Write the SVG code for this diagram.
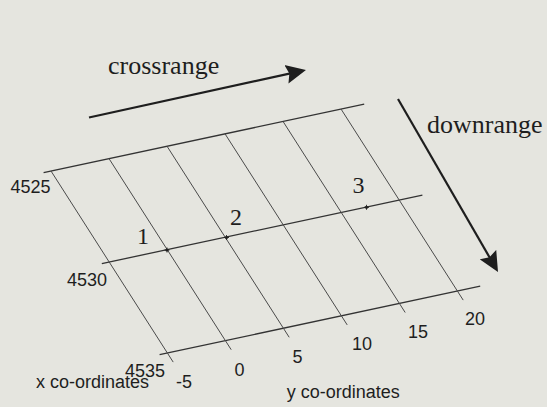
<svg xmlns="http://www.w3.org/2000/svg" xmlns:xlink="http://www.w3.org/1999/xlink" width="547" height="407" viewBox="0 0 547 407">
  <style>
    .bg { fill: #e5e5df; }
    .row { stroke: #333; stroke-width: 1.3; fill: none; }
    .col { stroke: #4a4a4a; stroke-width: 1; fill: none; }
    .arrow { stroke: #1e1e1e; stroke-width: 2.2; fill: none; }
    .serif { font-family: "Liberation Serif", "Times New Roman", serif; fill: #1e1e1e; }
    .sans { font-family: "Liberation Sans", Arial, sans-serif; font-size: 18px; fill: #1e1e1e; }
    .big { font-size: 26px; }
    .num { font-size: 24px; text-anchor: middle; }
    .mid { text-anchor: middle; }
  </style>
  <defs>
    <marker id="head" viewBox="0 0 20 20" refX="10" refY="10" markerWidth="20" markerHeight="20" markerUnits="userSpaceOnUse" orient="auto">
      <path d="M0,0.5 L20,10 L0,19.5 L3,10 z" fill="#1e1e1e"/>
    </marker>
    <g id="pt">
      <circle cx="0" cy="0" r="1.6" fill="#222"/>
      <path d="M-2.5,0 H2.5 M0,-2.5 V2.5" stroke="#222" stroke-width="0.9"/>
    </g>
  </defs>
  <rect class="bg" x="0" y="0" width="547" height="407"/>

  <g id="connectors">
    <!-- x grid lines (4525, 4530, 4535) -->
    <line class="row" x1="43.6" y1="172.6" x2="364.2" y2="104.1"/>
    <line class="row" x1="101.8" y1="263.6" x2="422.4" y2="195.1"/>
    <line class="row" x1="159.6" y1="354.7" x2="480.2" y2="286.2"/>
    <!-- y grid lines (-5 .. 20) -->
    <line class="col" x1="51" y1="171" x2="173.2" y2="362.1"/>
    <line class="col" x1="109" y1="158.6" x2="231.2" y2="349.7"/>
    <line class="col" x1="167" y1="146.2" x2="289.2" y2="337.3"/>
    <line class="col" x1="225" y1="133.8" x2="347.2" y2="324.9"/>
    <line class="col" x1="283" y1="121.4" x2="405.2" y2="312.5"/>
    <line class="col" x1="341" y1="109" x2="463.2" y2="300.1"/>
    <!-- direction arrows -->
    <line class="arrow" x1="89" y1="117.5" x2="296.2" y2="72.1" marker-end="url(#head)"/>
    <line class="arrow" x1="398" y1="99" x2="493" y2="263.3" marker-end="url(#head)"/>
  </g>

  <g id="point-1">
    <use xlink:href="#pt" x="167" y="250"/>
    <text class="serif num" x="143" y="243.5">1</text>
  </g>
  <g id="point-2">
    <use xlink:href="#pt" x="226.5" y="237.5"/>
    <text class="serif num" x="236" y="225">2</text>
  </g>
  <g id="point-3">
    <use xlink:href="#pt" x="366.5" y="207.3"/>
    <text class="serif num" x="358.5" y="193">3</text>
  </g>

  <g id="label-crossrange">
    <text class="serif big" x="108" y="73.5">crossrange</text>
  </g>
  <g id="label-downrange">
    <text class="serif big" x="427" y="132.7">downrange</text>
  </g>

  <g id="x-axis-labels">
    <text class="sans mid" x="30.5" y="192.7">4525</text>
    <text class="sans mid" x="87" y="286">4530</text>
    <text class="sans mid" x="145" y="377">4535</text>
    <text class="sans" x="36" y="388">x co-ordinates</text>
  </g>
  <g id="y-axis-labels">
    <text class="sans mid" x="184" y="388">-5</text>
    <text class="sans mid" x="239.5" y="376">0</text>
    <text class="sans mid" x="297.5" y="362.7">5</text>
    <text class="sans mid" x="362" y="350">10</text>
    <text class="sans mid" x="418" y="338">15</text>
    <text class="sans mid" x="475" y="325">20</text>
    <text class="sans" x="286.7" y="398.3">y co-ordinates</text>
  </g>
</svg>
